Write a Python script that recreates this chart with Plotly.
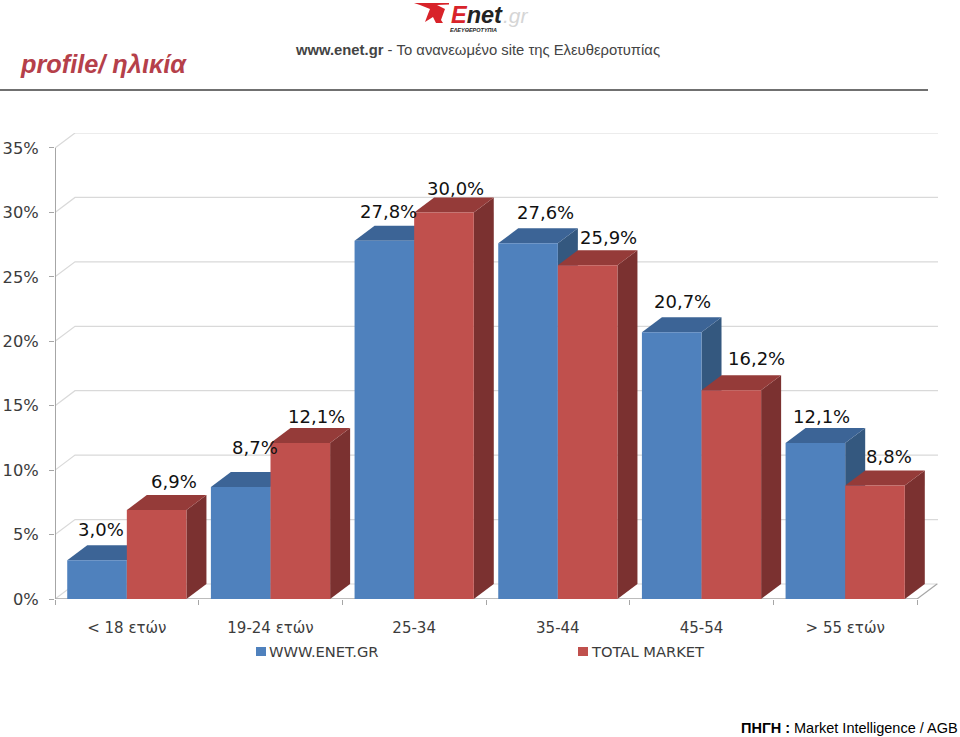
import plotly.graph_objects as go

# ---- data ----
categories = ["< 18 ετών", "19-24 ετών", "25-34", "35-44", "45-54", "> 55 ετών"]
enet_values = [3.0, 8.7, 27.8, 27.6, 20.7, 12.1]
market_values = [6.9, 12.1, 30.0, 25.9, 16.2, 8.8]
series_names = ["WWW.ENET.GR", "TOTAL MARKET"]
y_ticks = [0, 5, 10, 15, 20, 25, 30, 35]

# label nudges in screen pixels (right, up)
enet_label_dx = [4, 14, 4, 17, 11, 6]
enet_label_dy = [31, 39, 29, 31, 31, 27]
market_label_dx = [17, 16, 12, 21, 25, 14]
market_label_dy = [29, 27, 24, 28, 32, 29]

# ---- geometry ----
W, H = 960, 737
PX_L, PX_R, PX_T, PX_B = 55, 938, 133, 599
PX_PER_CAT = 143.67
PX_PER_PCT = 12.886
X_MIN = -0.5
X_MAX = X_MIN + (PX_R - PX_L) / PX_PER_CAT
Y_MAX = (PX_B - PX_T) / PX_PER_PCT
DX = 20 / PX_PER_CAT      # depth of the 3-D effect, in axis units
DY = 15 / PX_PER_PCT
BAR_W = 59.6 / PX_PER_CAT
LAST = len(categories) - 0.5

C_BLUE, C_BLUE_TOP, C_BLUE_SIDE = "#4F81BD", "#3C6496", "#34587F"
C_RED, C_RED_TOP, C_RED_SIDE = "#C0504D", "#953B39", "#7B3130"
C_GRID = "#D9D9D9"
C_AXIS = "#A6A6A6"
C_TEXT = "#3C3C3C"
FONT = "DejaVu Sans"
SANS = "Liberation Sans"

fig = go.Figure()


def face(xs, ys, color):
    fig.add_trace(go.Scatter(
        x=xs, y=ys, mode="lines", fill="toself", fillcolor=color,
        line=dict(width=0, color=color), hoverinfo="skip", showlegend=False))


# depth faces: blue first, red after, front faces come later on the overlay axes
for values, left, top_c, side_c in (
    (enet_values, -BAR_W, C_BLUE_TOP, C_BLUE_SIDE),
    (market_values, 0.0, C_RED_TOP, C_RED_SIDE),
):
    for i, v in enumerate(values):
        x0 = i + left
        x1 = x0 + BAR_W
        face([x1, x1 + DX, x1 + DX, x1, x1], [0, DY, v + DY, v, 0], side_c)
        face([x0, x0 + DX, x1 + DX, x1, x0], [v, v + DY, v + DY, v, v], top_c)

# front faces
for name, values, color in zip(series_names, (enet_values, market_values), (C_BLUE, C_RED)):
    fig.add_trace(go.Bar(name=name, x=list(range(len(categories))), y=values,
                         marker=dict(color=color, line=dict(width=0)),
                         xaxis="x2", yaxis="y2", showlegend=False))

# back wall grid
shapes = []
for t in y_ticks:
    shapes.append(dict(
        type="path", layer="below", xref="x", yref="y",
        path=f"M {X_MIN} {t} L {X_MIN + DX} {t + DY} L {X_MAX} {t + DY}",
        line=dict(color=C_GRID, width=1.2)))
# floor edge, axes
shapes.append(dict(type="path", layer="below", xref="x", yref="y",
                   path=f"M {LAST} 0 L {LAST + DX} {DY}",
                   line=dict(color=C_AXIS, width=1.2)))
shapes.append(dict(type="line", layer="below", xref="x", yref="y",
                   x0=X_MIN, x1=X_MIN, y0=0, y1=max(y_ticks),
                   line=dict(color=C_AXIS, width=2)))
shapes.append(dict(type="line", layer="below", xref="x", yref="y",
                   x0=X_MIN, x1=LAST, y0=0, y1=0,
                   line=dict(color=C_AXIS, width=1.5)))
# header rule
shapes.append(dict(type="line", xref="paper", yref="paper",
                   x0=0, x1=928 / W, y0=1 - 90 / H, y1=1 - 90 / H,
                   line=dict(color="#404040", width=1.6)))


def px(x):
    return x / W


def py(y):
    return 1 - y / H


# logo figure
def logo_path(points):
    return "M " + " L ".join(f"{px(a):.5f} {py(b):.5f}" for a, b in points) + " Z"


shapes.append(dict(type="path", xref="paper", yref="paper", line=dict(width=0),
                   fillcolor="#D8232A",
                   path=logo_path([(414, 3), (449, 3), (449, 4.5), (437, 5), (445, 9),
                                   (441, 20), (443, 23), (436, 23), (433, 17), (425, 22),
                                   (428, 14), (430, 9), (420, 5)])))

annotations = []


def text(x, y, s, size, color, family=FONT, xanchor="left", yanchor="middle"):
    annotations.append(dict(xref="paper", yref="paper", x=px(x), y=py(y), text=s,
                            showarrow=False, xanchor=xanchor, yanchor=yanchor,
                            font=dict(size=size, color=color, family=family),
                            borderpad=0, borderwidth=0))


# value labels
def fmt(v):
    return f"{v:.1f}".replace(".", ",") + "%"


for values, sign, dxs, dys in (
    (enet_values, -0.5, enet_label_dx, enet_label_dy),
    (market_values, 0.5, market_label_dx, market_label_dy),
):
    for i, v in enumerate(values):
        annotations.append(dict(
            xref="x", yref="y", x=i + sign * BAR_W, y=v, text=fmt(v),
            xshift=dxs[i], yshift=dys[i], showarrow=False,
            font=dict(size=18, color="#111111", family=FONT)))

# legend keys
for name, color, key_x in zip(series_names, (C_BLUE, C_RED), (256, 578)):
    shapes.append(dict(type="rect", xref="paper", yref="paper", line=dict(width=0),
                       fillcolor=color, x0=px(key_x), x1=px(key_x + 10),
                       y0=py(656), y1=py(647)))
    text(key_x + 12.5, 651, name, 14.7, C_TEXT)

# header / footer
text(20, 64, "<b><i>profile/ ηλικία</i></b>", 25.3, "#B5404A", family=SANS)
text(295, 50, "<b>www.enet.gr</b> - Το ανανεωμένο site της Ελευθεροτυπίας", 14.8, "#444444", family=SANS)
text(451, 15, "<b><i><span style='color:#D8232A'>E</span>net</i></b>", 23.5, "#222222", family=SANS)
text(503, 15, "<i>.gr</i>", 21, "#D5D5D5", family=SANS)
text(450, 30, "<b><i>ΕΛΕΥΘΕΡΟΤΥΠΙΑ</i></b>", 5.5, "#222222", family=SANS)
text(958, 728, "<b>ΠΗΓΗ :</b> Market Intelligence / AGB", 14.5, "#000000", family=SANS, xanchor="right")

x_dom = [PX_L / W, PX_R / W]
y_dom = [1 - PX_B / H, 1 - PX_T / H]

fig.update_layout(
    width=W, height=H, autosize=False,
    margin=dict(l=0, r=0, t=0, b=0, autoexpand=False),
    paper_bgcolor="white", plot_bgcolor="white",
    barmode="group", bargap=1 - 2 * BAR_W, bargroupgap=0,
    font=dict(family=FONT, color=C_TEXT),
    shapes=shapes, annotations=annotations,
    showlegend=False,
    xaxis=dict(domain=x_dom, range=[X_MIN, X_MAX], showgrid=False, zeroline=False, showline=False,
               tickmode="array", tickvals=list(range(len(categories))), ticktext=categories,
               ticks="", ticklabelstandoff=18,
               tickfont=dict(size=15, color=C_TEXT, family=FONT),
               minor=dict(ticks="outside", ticklen=5, tickcolor=C_AXIS, tickwidth=1.2,
                          tick0=-0.5, dtick=1, showgrid=False),
               fixedrange=True),
    yaxis=dict(domain=y_dom, range=[0, Y_MAX], showgrid=False, zeroline=False, showline=False,
               tickmode="array", tickvals=y_ticks, ticktext=[f"{t}%" for t in y_ticks],
               ticks="outside", ticklen=5, tickcolor=C_AXIS, tickwidth=1.2,
               ticklabelstandoff=7,
               tickfont=dict(size=16.3, color=C_TEXT, family=FONT), fixedrange=True),
    xaxis2=dict(overlaying="x", range=[X_MIN, X_MAX], visible=False, fixedrange=True),
    yaxis2=dict(overlaying="y", range=[0, Y_MAX], visible=False, fixedrange=True),
)

fig.write_html("out.html", config=dict(displayModeBar=False),
               post_script="document.body.style.margin='0';")
